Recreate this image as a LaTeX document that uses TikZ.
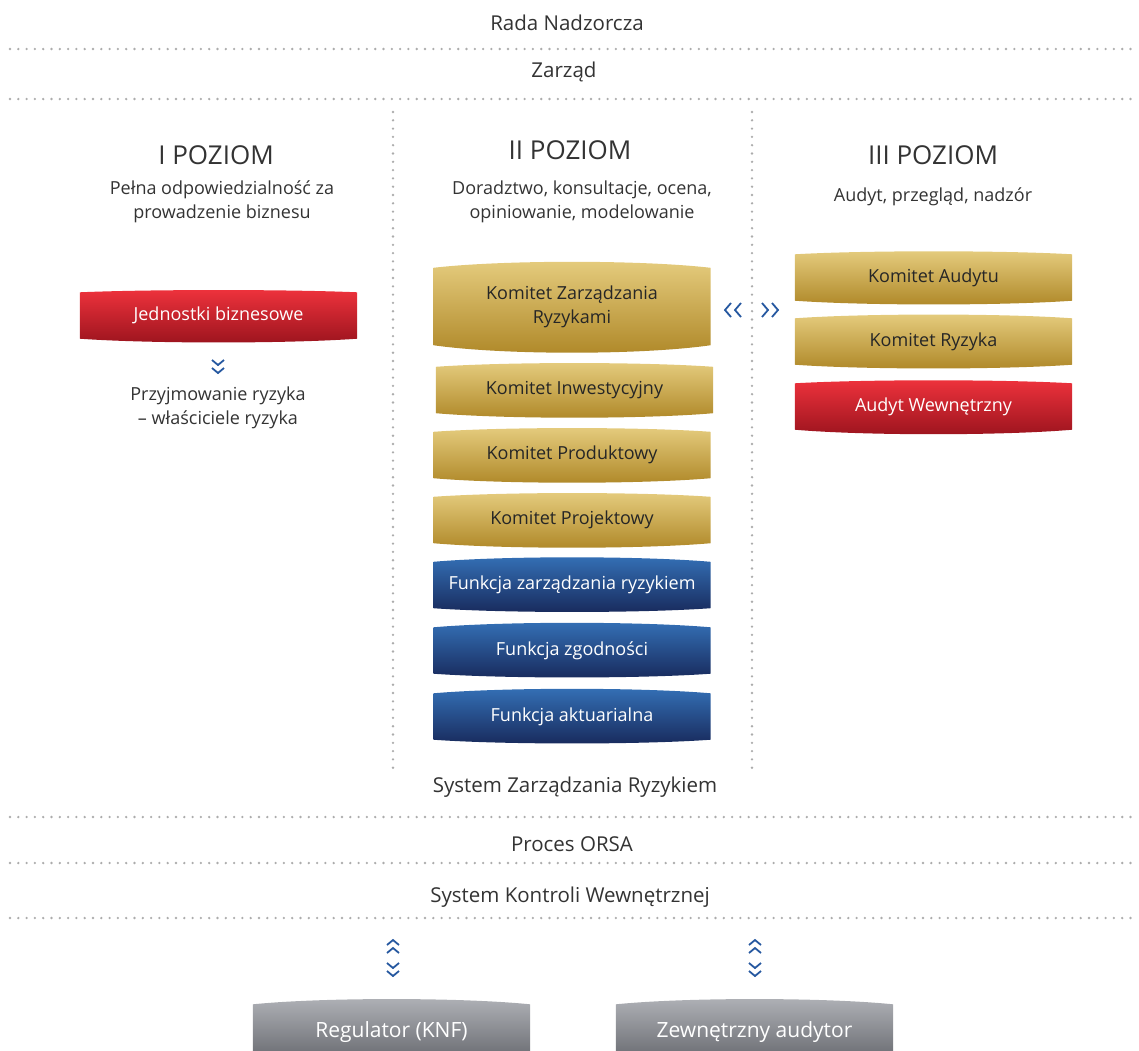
\documentclass[tikz,border=0pt]{standalone}
\usepackage{fontspec}
\setmainfont{Open Sans}
\usetikzlibrary{positioning,calc,backgrounds}

\definecolor{goldtop}{RGB}{229,204,126}
\definecolor{goldbot}{RGB}{175,136,40}
\definecolor{redtop}{RGB}{238,50,60}
\definecolor{redbot}{RGB}{156,20,30}
\definecolor{bluetop}{RGB}{52,112,182}
\definecolor{bluebot}{RGB}{24,42,92}
\definecolor{graytop}{RGB}{175,177,182}
\definecolor{graybot}{RGB}{105,107,113}
\definecolor{txt}{RGB}{51,51,51}
\definecolor{dotgray}{RGB}{172,172,172}
\definecolor{chev}{RGB}{38,88,160}

% bulged box behind a named node: name, colour, top bulge, bottom bulge
\newcommand\bulge[4]{%
  \begin{pgfonlayer}{background}
  \shade[top color=#2top, bottom color=#2bot]
    (#1.north west) .. controls ($(#1.north west)!0.25!(#1.north east)+(0,-#3)$) and ($(#1.north west)!0.75!(#1.north east)+(0,-#3)$) .. (#1.north east)
    -- (#1.south east) .. controls ($(#1.south west)!0.75!(#1.south east)+(0,#4)$) and ($(#1.south west)!0.25!(#1.south east)+(0,#4)$) .. (#1.south west) -- cycle;
  \end{pgfonlayer}}

\tikzset{
  chevline/.style={draw=chev, line width=1.8pt},
  chevdn/.pic={\draw[chevline] (-6,-7)--(0,-2)--(6,-7) (-6,1)--(0,6)--(6,1);},
  chevup/.pic={\draw[chevline] (-6,-1)--(0,-6)--(6,-1) (-6,7)--(0,2)--(6,7);},
  chevlf/.pic={\draw[chevline] (-2,-7)--(-8,0)--(-2,7) (8,-7)--(2,0)--(8,7);},
  chevrt/.pic={\draw[chevline] (2,-7)--(8,0)--(2,7) (-8,-7)--(-2,0)--(-8,7);},
}

\begin{document}
\begin{tikzpicture}[x=1pt,y=-1pt,
    every node/.style={font=\fontsize{18}{24}\selectfont, text=txt, align=center, inner sep=0pt},
    band/.style={font=\fontsize{20.5}{24}\selectfont},
    level/.style={font=\fontsize{26}{30}\selectfont},
    box/.style={minimum width=277pt, minimum height=46pt, font=\fontsize{18}{24}\selectfont},
    goldbox/.style={box, text=black!85},
    whitebox/.style={box, text=white},
    sep/.style={draw=dotgray, line width=2.6pt, line cap=round, dash pattern=on 0pt off 8.3pt}]
    \useasboundingbox (0,0) rectangle (1139,1050);
    \clip (0,0) rectangle (1139,1050);

    % separators
    \draw[sep] (10,49) -- (1135,49);
    \draw[sep] (10,99) -- (1135,99);
    \draw[sep] (10,817) -- (1135,817);
    \draw[sep] (10,863) -- (1135,863);
    \draw[sep] (10,918) -- (1135,918);
    \draw[sep] (393,112) -- (393,773);
    \draw[sep] (752,112) -- (752,773);

    \node[band] (rada) at (567,23) {Rada Nadzorcza};
    \node[band] (zarzad) at (564,72) {Zarząd};

    % level I
    \node[level] (poz1) at (216,155) {I POZIOM};
    \node (opis1) at (222,202) {Pełna odpowiedzialność za\\prowadzenie biznesu};
    \node[whitebox] (jedn) at (218.5,315.5) {Jednostki biznesowe};
    \bulge{jedn}{red}{3}{5}
    \pic at (218,367) {chevdn};
    \node (przyj) at (218,408) {Przyjmowanie ryzyka\\– właściciele ryzyka};

    % level II
    \node[level] (poz2) at (570,150) {II POZIOM};
    \node (opis2) at (582,202) {Doradztwo, konsultacje, ocena,\\opiniowanie, modelowanie};
    \node[goldbox, minimum height=77pt] (kzr) at (572,306.5) {Komitet Zarządzania\\Ryzykami};
    \bulge{kzr}{gold}{8}{10}
    \node[goldbox] (kinw) at (574.5,390) {Komitet Inwestycyjny};
    \bulge{kinw}{gold}{5}{6}
    \node[goldbox] (kprod) at (572,455) {Komitet Produktowy};
    \bulge{kprod}{gold}{5}{6}
    \node[goldbox] (kproj) at (572,520) {Komitet Projektowy};
    \bulge{kproj}{gold}{5}{6}
    \node[whitebox] (fzr) at (572,585) {Funkcja zarządzania ryzykiem};
    \bulge{fzr}{blue}{6}{5}
    \node[whitebox] (fzg) at (572,650.5) {Funkcja zgodności};
    \bulge{fzg}{blue}{6}{5}
    \node[whitebox] (fakt) at (572,716.5) {Funkcja aktuarialna};
    \bulge{fakt}{blue}{6}{5}
    \node[band] (szr) at (575,787) {System Zarządzania Ryzykiem};

    \pic at (733,310) {chevlf};
    \pic at (770,310) {chevrt};

    % level III
    \node[level] (poz3) at (933,155) {III POZIOM};
    \node (opis3) at (933,197) {Audyt, przegląd, nadzór};
    \node[goldbox] (kaud) at (933.5,277.5) {Komitet Audytu};
    \bulge{kaud}{gold}{4}{5}
    \node[goldbox] (kryz) at (933.5,341.5) {Komitet Ryzyka};
    \bulge{kryz}{gold}{5}{5}
    \node[whitebox] (audw) at (933.5,406.5) {Audyt Wewnętrzny};
    \bulge{audw}{red}{4}{6}

    \node[band] (orsa) at (572,844) {Proces ORSA};
    \node[band] (skw) at (570,897) {System Kontroli Wewnętrznej};

    \pic at (393,946) {chevup};
    \pic at (393,970) {chevdn};
    \pic at (755,946) {chevup};
    \pic at (755,970) {chevdn};

    \node[whitebox, minimum height=55pt, font=\fontsize{21}{24}\selectfont] (knf) at (391.5,1032) {Regulator (KNF)};
    \bulge{knf}{gray}{7}{0}
    \node[whitebox, minimum height=55pt, font=\fontsize{21}{24}\selectfont] (zaud) at (754.5,1032) {Zewnętrzny audytor};
    \bulge{zaud}{gray}{7}{0}
\end{tikzpicture}
\end{document}
